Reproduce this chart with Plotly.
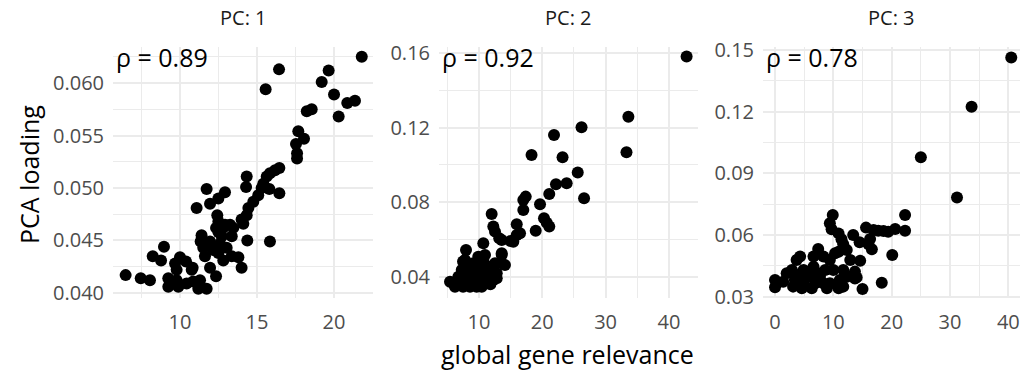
import plotly.graph_objects as go

# ---------------- data ----------------
panel_titles = ["PC: 1", "PC: 2", "PC: 3"]
rho_labels = ["ρ = 0.89", "ρ = 0.92", "ρ = 0.78"]

pc1_relevance = [21.8, 16.43, 15.56, 19.65, 19.2, 20.0, 20.86, 21.36, 20.3, 18.23, 18.55, 17.68, 18.05, 17.53, 17.6, 17.6,
                 16.45, 16.17, 15.84, 15.63, 15.41, 15.3, 15.08, 15.8, 16.45,
                 14.33, 14.29, 14.76, 14.44, 14.33, 14.11, 14.0,
                 12.92, 12.49, 11.95, 11.73, 11.08,
                 12.42, 12.49, 12.92, 13.25, 13.46, 13.36, 12.34, 12.49, 12.71, 12.6,
                 11.95, 12.16, 12.49, 12.81, 11.62, 11.51, 11.34, 11.4,
                 13.03, 13.36, 13.79, 14.0, 14.37, 15.84,
                 11.95, 12.34, 11.3, 11.19, 11.73, 10.43, 10.86, 9.78, 9.89, 9.24, 9.35, 9.24,
                 9.68, 10.0, 10.39, 10.82, 9.78, 10.76,
                 8.96, 8.23, 8.77, 6.47, 7.45, 8.05, 12.81, 12.27]
pc1_loading = [0.0625, 0.0613, 0.0594, 0.0612, 0.0601, 0.0589, 0.0581, 0.0583, 0.0568, 0.0573, 0.0575, 0.0554, 0.0547, 0.0542, 0.0533, 0.0528,
               0.0519, 0.0517, 0.0514, 0.0511, 0.0504, 0.0500, 0.0493, 0.0499, 0.0495,
               0.0511, 0.0501, 0.0487, 0.0481, 0.0474, 0.0466, 0.0470,
               0.0496, 0.0490, 0.0485, 0.0499, 0.0481,
               0.0474, 0.0468, 0.0465, 0.0465, 0.0462, 0.0454, 0.0462, 0.0458, 0.0454, 0.0447,
               0.0449, 0.0441, 0.0438, 0.0431, 0.0435, 0.0443, 0.0449, 0.0455,
               0.0443, 0.0435, 0.0434, 0.0424, 0.0450, 0.0449,
               0.0424, 0.0416, 0.0412, 0.0404, 0.0404, 0.0409, 0.0411, 0.0412, 0.0406, 0.0414, 0.0409, 0.0406,
               0.0428, 0.0434, 0.0430, 0.0424, 0.0422, 0.0422,
               0.0444, 0.0435, 0.0431, 0.0417, 0.0414, 0.0412, 0.0462, 0.0441]

pc2_relevance = [42.8, 33.6, 33.3, 26.2, 26.6, 21.85, 23.2, 18.3, 25.6, 23.85, 22.16, 21.1, 19.64, 17.38, 17.0, 17.0,
                 18.96, 20.27, 20.7, 21.1, 12.0, 12.26, 12.53, 13.2, 13.59, 15.96, 16.48, 15.42, 15.0, 15.96,
                 10.68, 7.95, 7.48, 8.27, 13.59, 14.1, 13.59,
                 5.42, 6.21, 7.0, 7.79, 8.84, 9.89, 10.95, 12.26, 12.8, 11.74, 10.68, 9.89, 9.1, 8.3, 7.27, 6.74,
                 5.95, 9.63, 8.58, 11.48, 10.43, 12.53, 10.95, 7.79, 13.59, 7.48, 10.43, 8.84, 11.2, 12.8,
                 6.5, 9.3, 10.1, 11.8, 8.0]
pc2_loading = [0.1582, 0.1259, 0.1068, 0.1202, 0.0821, 0.1161, 0.1041, 0.1054, 0.0959, 0.0902, 0.0896, 0.0844, 0.0789, 0.0830, 0.0812, 0.0758,
               0.0647, 0.0714, 0.0690, 0.0669, 0.0737, 0.0669, 0.0642, 0.0606, 0.0597, 0.0681, 0.0633, 0.0588, 0.0592, 0.0624,
               0.0579, 0.0543, 0.0481, 0.0436, 0.0517, 0.0463, 0.0526,
               0.0373, 0.0346, 0.0382, 0.0409, 0.0400, 0.0382, 0.0364, 0.0382, 0.0418, 0.0454, 0.0490, 0.0507, 0.0472, 0.0454, 0.0436, 0.0400,
               0.0364, 0.0346, 0.0346, 0.0418, 0.0436, 0.0472, 0.0517, 0.0490, 0.0472, 0.0346, 0.0346, 0.0373, 0.0391, 0.0391,
               0.0355, 0.0420, 0.0460, 0.0360, 0.0395]

pc3_relevance = [40.5, 33.7, 25.0, 31.2, 22.3, 22.3, 20.6, 19.4, 18.6, 17.7, 16.9, 15.6, 20.1, 18.3, 15.0, 16.3, 16.6, 16.0,
                 14.5, 13.4, 14.6, 13.7, 14.0, 9.9, 9.4, 9.7, 10.9, 11.4, 11.7, 12.3, 7.4,
                 0.0, 0.0, 2.0, 2.9, 3.7, 4.3, 3.4, 3.1, 4.9, 5.4, 6.6, 6.6, 6.9, 6.3, 7.7, 8.6, 9.4, 10.3, 10.9,
                 9.4, 11.1, 10.9, 11.7, 12.9, 13.7, 12.3, 4.9, 8.3, 8.9, 4.6, 1.4, 6.0, 7.4, 10.0, 4.0, 8.3, 11.7]
pc3_loading = [0.1464, 0.1224, 0.0978, 0.0782, 0.0697, 0.0621, 0.0629, 0.0616, 0.0620, 0.0621, 0.0624, 0.0636, 0.0503, 0.0368, 0.0337, 0.0581, 0.0531, 0.0556,
               0.0565, 0.0600, 0.0475, 0.0422, 0.0394, 0.0697, 0.0657, 0.0628, 0.0608, 0.0579, 0.0555, 0.0527, 0.0532,
               0.0381, 0.0346, 0.0414, 0.0430, 0.0479, 0.0495, 0.0381, 0.0349, 0.0365, 0.0414, 0.0446, 0.0495, 0.0365, 0.0341, 0.0397, 0.0430, 0.0479, 0.0511, 0.0519,
               0.0365, 0.0381, 0.0341, 0.0430, 0.0479, 0.0389, 0.0397, 0.0430, 0.0495, 0.0341, 0.0341, 0.0373, 0.0397, 0.0414, 0.0430, 0.0405, 0.0365, 0.0349]

x_ticks = [[10, 15, 20], [10, 20, 30, 40], [0, 10, 20, 30, 40]]
y_ticks = [[0.040, 0.045, 0.050, 0.055, 0.060], [0.04, 0.08, 0.12, 0.16], [0.03, 0.06, 0.09, 0.12, 0.15]]
y_tick_text = [["0.040", "0.045", "0.050", "0.055", "0.060"], ["0.04", "0.08", "0.12", "0.16"],
               ["0.03", "0.06", "0.09", "0.12", "0.15"]]

# ---------------- layout geometry ----------------
W, H = 1022, 370
panel_px = [(113, 373), (439, 698), (763, 1020)]
top_px, bottom_px = 46.7, 298
x_ranges = [[5.65, 22.53], [3.68, 44.6], [-2.06, 42.0]]
y_ranges = [[0.03952, 0.06346], [0.02856, 0.1635], [0.02937, 0.1516]]
x_minor = [(7.5, 5), (5, 10), (5, 10)]
y_minor = [(0.0375, 0.005), (0.02, 0.04), (0.015, 0.03)]

FONT = "Open Sans"
GRID = "#EBEBEB"

xs = [pc1_relevance, pc2_relevance, pc3_relevance]
ys = [pc1_loading, pc2_loading, pc3_loading]

fig = go.Figure()
layout = dict(
    width=W, height=H, margin=dict(l=0, r=0, t=0, b=0, autoexpand=False), autosize=False,
    paper_bgcolor="white", plot_bgcolor="white", showlegend=False,
    font=dict(family=FONT, color="black"),
)
annotations = []
for i in range(3):
    sfx = "" if i == 0 else str(i + 1)
    fig.add_trace(go.Scatter(
        x=xs[i], y=ys[i], mode="markers",
        marker=dict(size=12, color="black", line=dict(width=0)),
        xaxis="x" + sfx, yaxis="y" + sfx, hoverinfo="skip",
    ))
    l, r = panel_px[i]
    layout["xaxis" + sfx] = dict(
        domain=[l / W, r / W], range=x_ranges[i], anchor="y" + sfx,
        tickmode="array", tickvals=x_ticks[i], ticktext=[str(t) for t in x_ticks[i]],
        showgrid=True, gridcolor=GRID, gridwidth=2, zeroline=False, showline=False,
        ticks="", tickfont=dict(family=FONT, size=20, color="#4D4D4D"), ticklabelstandoff=10,
        minor=dict(tick0=x_minor[i][0], dtick=x_minor[i][1], showgrid=True, gridcolor=GRID, gridwidth=1),
    )
    layout["yaxis" + sfx] = dict(
        domain=[1 - bottom_px / H, 1 - top_px / H], range=y_ranges[i], anchor="x" + sfx,
        tickmode="array", tickvals=y_ticks[i], ticktext=y_tick_text[i],
        showgrid=True, gridcolor=GRID, gridwidth=2, zeroline=False, showline=False,
        ticks="", tickfont=dict(family=FONT, size=20, color="#4D4D4D"), ticklabelstandoff=8,
        minor=dict(tick0=y_minor[i][0], dtick=y_minor[i][1], showgrid=True, gridcolor=GRID, gridwidth=1),
    )
    # strip title
    annotations.append(dict(
        text=panel_titles[i], x=(l + r) / 2 / W, y=1 - 18 / H, xref="paper", yref="paper",
        showarrow=False, xanchor="center", yanchor="middle",
        font=dict(family=FONT, size=20, color="#1A1A1A"),
    ))
    # correlation label
    annotations.append(dict(
        text=rho_labels[i], x=(l + 1) / W, y=1 - 57 / H, xref="paper", yref="paper",
        showarrow=False, xanchor="left", yanchor="middle",
        font=dict(family=FONT, size=25, color="black"),
    ))

annotations.append(dict(
    text="global gene relevance", x=(113 + 1022) / 2 / W, y=1 - 354 / H, xref="paper", yref="paper",
    showarrow=False, xanchor="center", yanchor="middle", font=dict(family=FONT, size=25, color="black"),
))
annotations.append(dict(
    text="PCA loading", x=29 / W, y=1 - 175 / H, xref="paper", yref="paper", textangle=-90,
    showarrow=False, xanchor="center", yanchor="middle", font=dict(family=FONT, size=25, color="black"),
))
layout["annotations"] = annotations
fig.update_layout(**layout)
fig.write_html("out.html", post_script="document.body.style.margin='0';document.documentElement.style.margin='0';")
